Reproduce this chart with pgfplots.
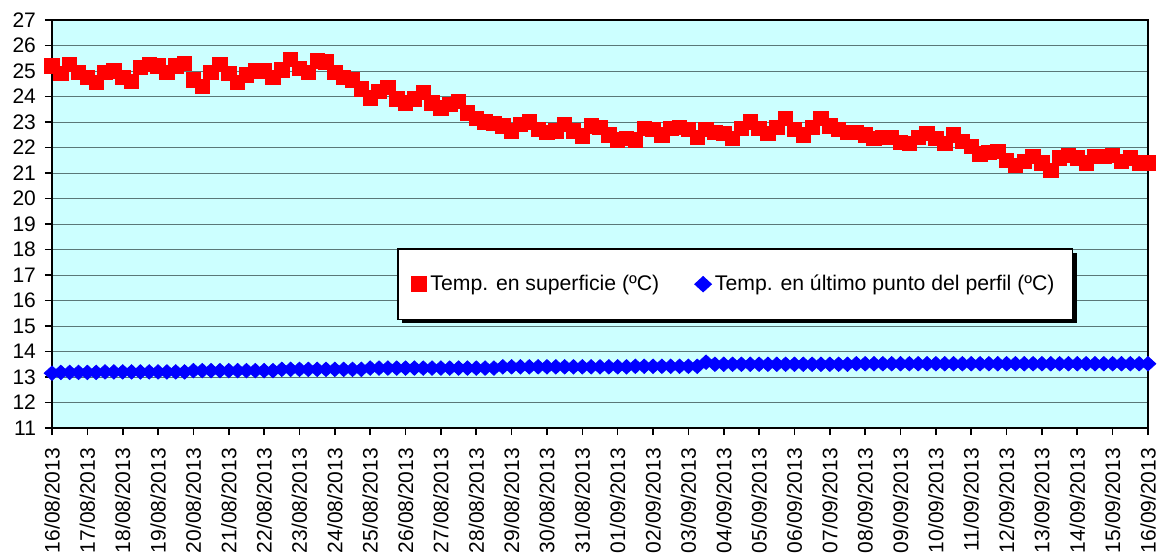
\documentclass[border=0pt]{standalone}
\usepackage{pgfplots}
\pgfplotsset{compat=1.18}
\usepackage{pgfplotstable}
\usepackage{fontspec}
\setmainfont{Liberation Sans}
\usetikzlibrary{shadows}

\definecolor{plotbg}{RGB}{204,255,255}
\definecolor{gridc}{RGB}{90,120,120}

% x = day index (4 readings per day), red = surface, blue = last profile point
\pgfplotstableread{
x     red    blue
0.00  25.20  13.15
0.25  24.90  13.18
0.50  25.25  13.18
0.75  24.95  13.18
1.00  24.75  13.18
1.25  24.55  13.18
1.50  24.95  13.20
1.75  25.00  13.20
2.00  24.75  13.20
2.25  24.60  13.20
2.50  25.15  13.20
2.75  25.25  13.20
3.00  25.20  13.20
3.25  24.95  13.20
3.50  25.20  13.20
3.75  25.30  13.20
4.00  24.65  13.25
4.25  24.40  13.25
4.50  24.95  13.25
4.75  25.25  13.25
5.00  24.90  13.25
5.25  24.55  13.25
5.50  24.85  13.25
5.75  25.00  13.25
6.00  25.00  13.25
6.25  24.75  13.25
6.50  25.05  13.30
6.75  25.45  13.30
7.00  25.10  13.30
7.25  24.95  13.30
7.50  25.40  13.30
7.75  25.35  13.30
8.00  24.95  13.30
8.25  24.75  13.30
8.50  24.65  13.30
8.75  24.30  13.30
9.00  23.95  13.35
9.25  24.20  13.35
9.50  24.35  13.35
9.75  23.90  13.35
10.00 23.75  13.35
10.25 23.90  13.35
10.50 24.15  13.35
10.75 23.75  13.35
11.00 23.55  13.35
11.25 23.70  13.35
11.50 23.80  13.35
11.75 23.35  13.35
12.00 23.15  13.35
12.25 23.00  13.35
12.50 22.95  13.35
12.75 22.85  13.40
13.00 22.65  13.40
13.25 22.90  13.40
13.50 23.00  13.40
13.75 22.70  13.40
14.00 22.60  13.40
14.25 22.65  13.40
14.50 22.90  13.40
14.75 22.65  13.40
15.00 22.45  13.40
15.25 22.85  13.40
15.50 22.80  13.40
15.75 22.50  13.40
16.00 22.30  13.40
16.25 22.35  13.40
16.50 22.30  13.42
16.75 22.75  13.42
17.00 22.70  13.42
17.25 22.50  13.42
17.50 22.75  13.42
17.75 22.80  13.42
18.00 22.70  13.42
18.25 22.40  13.42
18.50 22.70  13.58
18.75 22.60  13.50
19.00 22.55  13.50
19.25 22.35  13.50
19.50 22.75  13.50
19.75 23.00  13.50
20.00 22.75  13.50
20.25 22.55  13.50
20.50 22.80  13.50
20.75 23.15  13.50
21.00 22.70  13.50
21.25 22.50  13.50
21.50 22.80  13.50
21.75 23.15  13.50
22.00 22.85  13.50
22.25 22.70  13.50
22.50 22.60  13.50
22.75 22.60  13.52
23.00 22.50  13.52
23.25 22.35  13.52
23.50 22.40  13.52
23.75 22.40  13.52
24.00 22.20  13.52
24.25 22.15  13.52
24.50 22.40  13.52
24.75 22.55  13.52
25.00 22.35  13.52
25.25 22.15  13.52
25.50 22.50  13.52
25.75 22.25  13.52
26.00 22.05  13.52
26.25 21.75  13.52
26.50 21.80  13.52
26.75 21.85  13.52
27.00 21.50  13.52
27.25 21.30  13.52
27.50 21.45  13.52
27.75 21.65  13.52
28.00 21.40  13.52
28.25 21.10  13.52
28.50 21.60  13.52
28.75 21.70  13.52
29.00 21.60  13.52
29.25 21.40  13.52
29.50 21.65  13.52
29.75 21.65  13.52
30.00 21.70  13.52
30.25 21.45  13.52
30.50 21.60  13.52
30.75 21.40  13.52
31.00 21.40  13.52
}\datatable

\begin{document}
\begin{tikzpicture}
\begin{axis}[
	scale only axis,
	width=548pt,
	height=204pt,
	xmin=0, xmax=31,
	ymin=11, ymax=27,
	xtick={0,...,31},
	xticklabels={16/08/2013,17/08/2013,18/08/2013,19/08/2013,20/08/2013,21/08/2013,22/08/2013,23/08/2013,24/08/2013,25/08/2013,26/08/2013,27/08/2013,28/08/2013,29/08/2013,30/08/2013,31/08/2013,01/09/2013,02/09/2013,03/09/2013,04/09/2013,05/09/2013,06/09/2013,07/09/2013,08/09/2013,09/09/2013,10/09/2013,11/09/2013,12/09/2013,13/09/2013,14/09/2013,15/09/2013,16/09/2013},
	ytick={11,...,27},
	x tick label style={rotate=90, anchor=east},
	xticklabel shift=3pt,
	yticklabel shift=1pt,
	ticklabel style={font=\fontsize{10.5}{12}\selectfont},
	/pgf/number format/assume math mode=true,
	tick align=outside,
	major tick length=3.5pt,
	tick style={black, line width=0.8pt},
	xtick pos=bottom, ytick pos=left,
	ymajorgrids,
	grid style={gridc, line width=0.5pt},
	axis background/.style={fill=plotbg},
	axis line style={black, line width=1.2pt},
	legend columns=2,
	legend style={at={(0.315,0.441)}, anchor=north west, draw=black, line width=0.8pt,
		fill=white, font=\fontsize{10.6}{12}\selectfont,
		inner xsep=7pt, inner ysep=11pt,
		/tikz/every even column/.append style={column sep=16pt},
		drop shadow={shadow xshift=2pt, shadow yshift=-2pt, fill=black, opacity=1}},
	legend cell align=left,
]
\addplot[only marks, mark=square*, mark size=3.6pt, color=red] table[x=x, y=red] {\datatable};
\addplot[only marks, mark=diamond*, mark size=3.6pt, mark options={xscale=1.45}, color=blue] table[x=x, y=blue] {\datatable};
\legend{Temp. en superficie (ºC), Temp. en último punto del perfil (ºC)}
\end{axis}
\pgfresetboundingbox
\path (-26pt,-62pt) rectangle (552.5pt,214pt);
\end{tikzpicture}
\end{document}
